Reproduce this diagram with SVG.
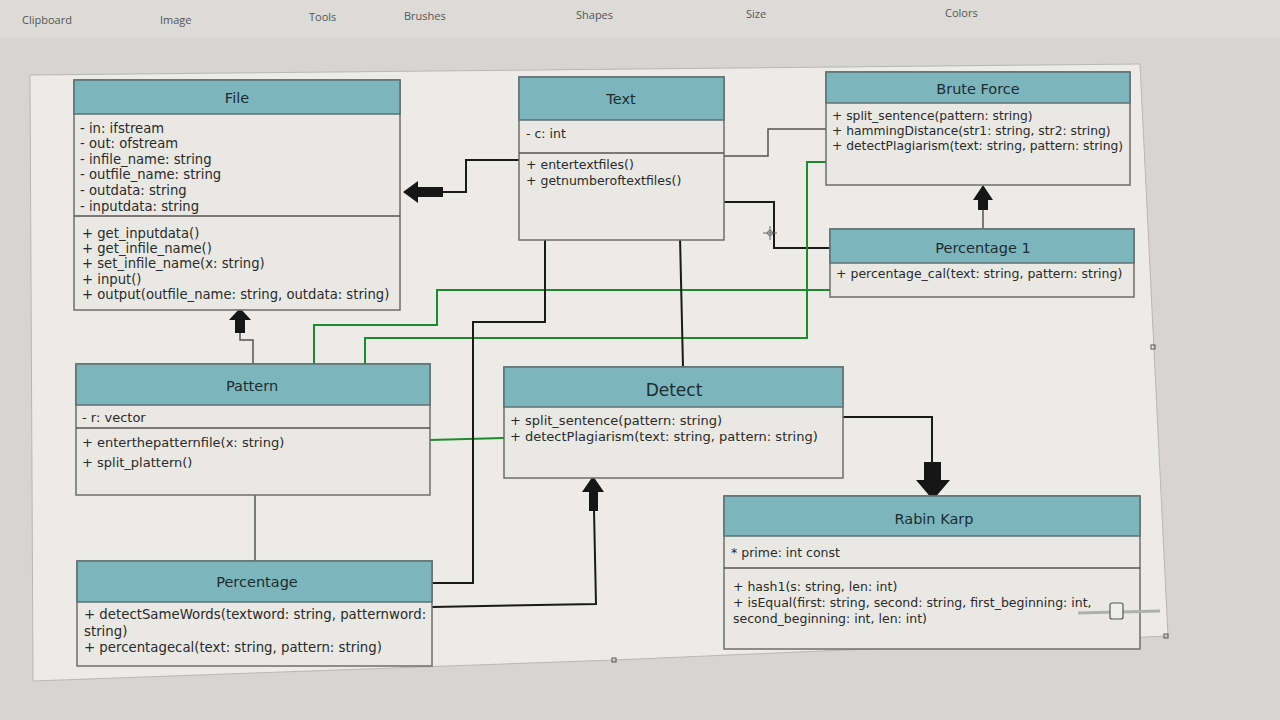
<svg xmlns="http://www.w3.org/2000/svg" width="1280" height="720" viewBox="0 0 1280 720">
<style>
.bg{fill:#d6d5d1}
.tb{font-family:"Open Sans","DejaVu Sans",sans-serif;font-size:11px;fill:#555}
.canvas{fill:#ecebe7;stroke:#b8b7b3;stroke-width:1}
.hdr{fill:#7db5bd;stroke:#5f6f72;stroke-width:1.5}
.body{fill:#e9e8e4;stroke:#6e6e6c;stroke-width:1.5}
.title{font-family:"DejaVu Sans",sans-serif;font-size:14.5px;fill:#1a2e32;text-anchor:middle}
.item{font-family:"DejaVu Sans",sans-serif;font-size:12.5px;fill:#2a2a2a}
.blk{fill:none;stroke:#1a1a1a;stroke-width:2}
.gry{fill:none;stroke:#555;stroke-width:1.5}
.grn{fill:none;stroke:#1e8a2e;stroke-width:2}
.arr{fill:#161616}
</style>
<rect class="bg" x="0" y="0" width="1280" height="720"/>
<rect x="0" y="0" width="1280" height="38" fill="#dcdbd7"/>
<g id="toolbar">
<text class="tb" x="22" y="24">Clipboard</text>
<text class="tb" x="160" y="24">Image</text>
<text class="tb" x="309" y="21">Tools</text>
<text class="tb" x="404" y="20">Brushes</text>
<text class="tb" x="576" y="19">Shapes</text>
<text class="tb" x="746" y="18">Size</text>
<text class="tb" x="945" y="17">Colors</text>
</g>
<polygon class="canvas" points="30,75 1140,64 1168,636 614,660 33,681"/>

<g id="connectors">
<polyline class="blk" points="519,160 466,160 466,192 443,192"/>
<path class="arr" d="M443,187 L418,187 L418,181 L403,192 L418,203 L418,197 L443,197 Z"/>
<polyline class="gry" points="724,156 768,156 768,129 826,129"/>
<polyline class="blk" points="724,202 774,202 774,248 830,248"/>
<line class="gry" x1="983" y1="229" x2="983" y2="208"/>
<path class="arr" d="M978,210 L978,200 L973,200 L983,185 L993,200 L988,200 L988,210 Z"/>
<polyline class="grn" points="828,162 807,162 807,338 365,338 365,365"/>
<polyline class="grn" points="830,290 437,290 437,325 314,325 314,367"/>
<polyline class="grn" points="430,440 504,438"/>
<polyline class="blk" points="545,240 545,322 473,322 473,583 432,583"/>
<polyline class="blk" points="680,237 683,367"/>
<polyline class="gry" points="253,364 253,340 240,340 240,330"/>
<path class="arr" d="M235,333 L235,320 L229,320 L240,308 L251,320 L245,320 L245,333 Z"/>
<line class="gry" x1="255" y1="495" x2="255" y2="561"/>
<polyline class="blk" points="432,607 596,604 594,510"/>
<path class="arr" d="M589,511 L589,492 L582,492 L593,476 L604,492 L598,492 L598,511 Z"/>
<polyline class="blk" points="843,417 932,417 932,462"/>
<path class="arr" d="M924,462 L941,462 L941,480 L950,480 L933,500 L916,480 L924,480 Z"/>
</g>

<g id="File" style="font-size:13.2px">
<rect class="body" x="74" y="80" width="326" height="230"/>
<rect class="hdr" x="74" y="80" width="326" height="34"/>
<line class="gry" x1="74" y1="216" x2="400" y2="216"/>
<text class="title" x="237" y="103">File</text>
<text class="item" style="font-size:13.2px" x="80" y="133">- in: ifstream</text>
<text class="item" style="font-size:13.2px" x="80" y="148">- out: ofstream</text>
<text class="item" style="font-size:13.2px" x="80" y="164">- infile_name: string</text>
<text class="item" style="font-size:13.2px" x="80" y="179">- outfile_name: string</text>
<text class="item" style="font-size:13.2px" x="80" y="195">- outdata: string</text>
<text class="item" style="font-size:13.2px" x="80" y="211">- inputdata: string</text>
<text class="item" style="font-size:13.2px" x="82" y="238">+ get_inputdata()</text>
<text class="item" style="font-size:13.2px" x="82" y="253">+ get_infile_name()</text>
<text class="item" style="font-size:13.2px" x="82" y="268">+ set_infile_name(x: string)</text>
<text class="item" style="font-size:13.2px" x="82" y="284">+ input()</text>
<text class="item" style="font-size:13.2px" x="82" y="299">+ output(outfile_name: string, outdata: string)</text>
</g>

<g id="Text">
<rect class="body" x="519" y="77" width="205" height="163"/>
<rect class="hdr" x="519" y="77" width="205" height="43"/>
<line class="gry" x1="519" y1="153" x2="724" y2="153"/>
<text class="title" x="621" y="104">Text</text>
<text class="item" x="526" y="138">-  c: int</text>
<text class="item" x="526" y="169">+ entertextfiles()</text>
<text class="item" x="526" y="185">+ getnumberoftextfiles()</text>
</g>

<g id="BruteForce">
<rect class="body" x="826" y="72" width="304" height="113"/>
<rect class="hdr" x="826" y="72" width="304" height="31"/>
<text class="title" x="978" y="94">Brute Force</text>
<text class="item" style="font-size:12.3px" x="832" y="120">+ split_sentence(pattern: string)</text>
<text class="item" style="font-size:12.3px" x="832" y="135">+ hammingDistance(str1: string, str2: string)</text>
<text class="item" style="font-size:12.3px" x="832" y="150">+ detectPlagiarism(text: string, pattern: string)</text>
</g>

<g id="Percentage1">
<rect class="body" x="830" y="229" width="304" height="68"/>
<rect class="hdr" x="830" y="229" width="304" height="34"/>
<text class="title" x="983" y="253">Percentage 1</text>
<text class="item" x="836" y="278">+ percentage_cal(text: string, pattern: string)</text>
</g>

<g id="Pattern">
<rect class="body" x="76" y="364" width="354" height="131"/>
<rect class="hdr" x="76" y="364" width="354" height="41"/>
<line class="gry" x1="76" y1="428" x2="430" y2="428"/>
<text class="title" x="252" y="391">Pattern</text>
<text class="item" style="font-size:13px" x="82" y="422">-  r: vector</text>
<text class="item" style="font-size:13px" x="82" y="447">+ enterthepatternfile(x: string)</text>
<text class="item" style="font-size:13px" x="82" y="467">+ split_plattern()</text>
</g>

<g id="Detect">
<rect class="body" x="504" y="367" width="339" height="111"/>
<rect class="hdr" x="504" y="367" width="339" height="40"/>
<text class="title" x="674" y="396" style="font-size:17px">Detect</text>
<text class="item" style="font-size:13px" x="510" y="425">+ split_sentence(pattern: string)</text>
<text class="item" style="font-size:13px" x="510" y="441">+ detectPlagiarism(text: string, pattern: string)</text>
</g>

<g id="Percentage">
<rect class="body" x="77" y="561" width="355" height="105"/>
<rect class="hdr" x="77" y="561" width="355" height="41"/>
<text class="title" x="257" y="587">Percentage</text>
<text class="item" style="font-size:13.3px" x="84" y="619">+ detectSameWords(textword: string, patternword:</text>
<text class="item" style="font-size:13.3px" x="84" y="636">string)</text>
<text class="item" style="font-size:13.3px" x="84" y="652">+ percentagecal(text: string, pattern: string)</text>
</g>

<g id="RabinKarp">
<rect class="body" x="724" y="496" width="416" height="153"/>
<rect class="hdr" x="724" y="496" width="416" height="40"/>
<line class="gry" x1="724" y1="568" x2="1140" y2="568"/>
<text class="title" x="934" y="524">Rabin Karp</text>
<text class="item" x="731" y="557">* prime: int const</text>
<text class="item" x="733" y="591">+ hash1(s: string, len: int)</text>
<text class="item" x="733" y="607">+ isEqual(first: string, second: string, first_beginning: int,</text>
<text class="item" x="733" y="623">second_beginning: int, len: int)</text>
</g>

<g id="artifacts">
<line x1="1078" y1="613" x2="1160" y2="611" stroke="#b0b0ae" stroke-width="3"/>
<rect x="1110" y="603" width="13" height="16" rx="2" fill="#eeeeea" stroke="#555" stroke-width="1.2"/>
<rect x="1151" y="345" width="4" height="4" fill="none" stroke="#555" stroke-width="1"/>
<rect x="1164" y="634" width="4" height="4" fill="none" stroke="#555" stroke-width="1"/>
<rect x="612" y="658" width="4" height="4" fill="none" stroke="#555" stroke-width="1"/>
<path d="M763,233 H777 M770,226 V240" stroke="#666" stroke-width="1" fill="none"/>
<circle cx="770" cy="233" r="2.5" fill="none" stroke="#666" stroke-width="1"/>
</g>
</svg>
